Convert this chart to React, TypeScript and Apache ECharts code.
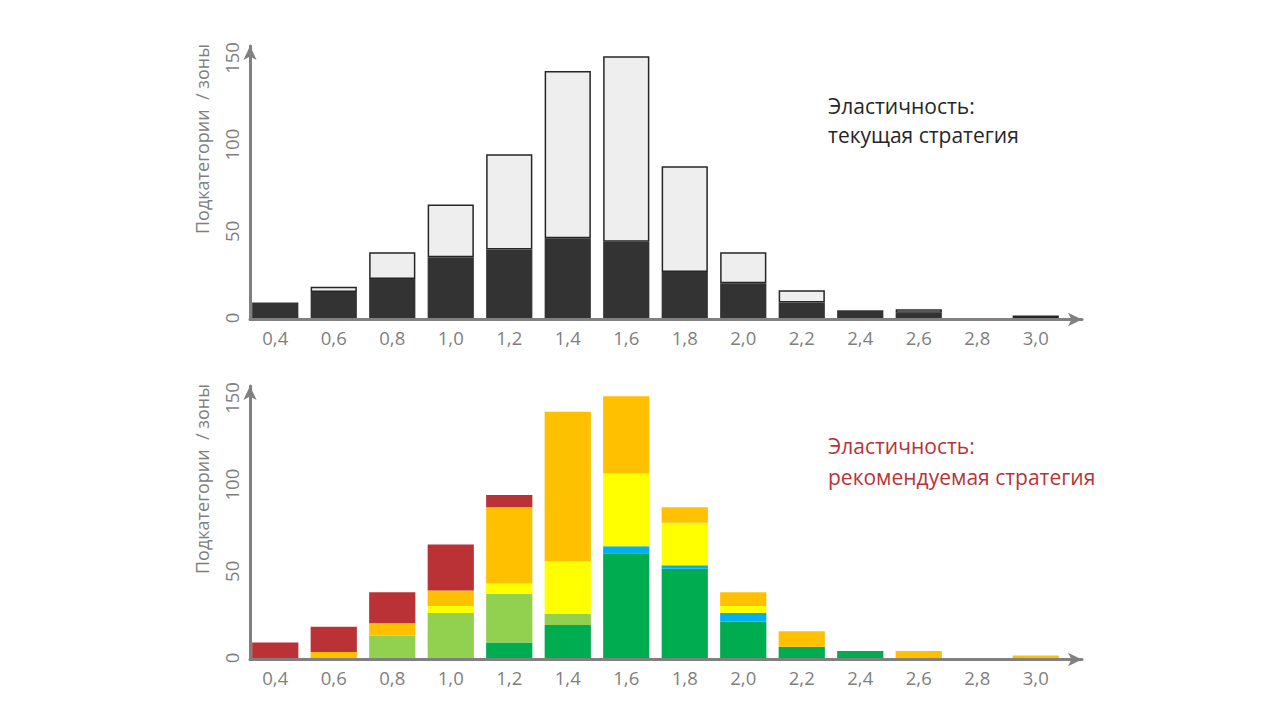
import React, { useEffect, useRef } from 'react';
import * as echarts from 'echarts';

const categories = ['0,4', '0,6', '0,8', '1,0', '1,2', '1,4', '1,6', '1,8', '2,0', '2,2', '2,4', '2,6', '2,8', '3,0'];
const yMin = 0;
const yMax = 150;
const yStep = 50;

// Top chart: current strategy
const currentDark = [9, 15, 22.5, 35, 39.5, 46, 44, 26.5, 20, 9, 4.5, 3, 0, 0];
const currentRest = [0, 3, 15.5, 30.5, 55, 96.5, 107, 61, 18, 7, 0, 2, 0, 1.5];

// Bottom chart: recommended strategy (stack order bottom -> top)
const zoneGreen = [0, 0, 0, 0, 9, 19, 60.5, 51.5, 21, 6.5, 4, 0, 0, 0];
const zoneLightGreen = [0, 0, 13, 26, 28, 6.5, 0, 0, 0, 0, 0, 0, 0, 0];
const zoneBlue = [0, 0, 0, 0, 0, 0, 4, 2, 5, 0, 0, 0, 0, 0];
const zoneYellow = [0, 0, 0, 4, 6, 30.5, 42, 24.5, 4, 0, 0, 0, 0, 0];
const zoneOrange = [0, 3.5, 7, 9, 44, 86, 44.5, 9, 8, 9, 0, 4, 0, 1.5];
const zoneRed = [9, 14.5, 18, 26.5, 7, 0, 0, 0, 0, 0, 0, 0, 0, 0];

const yAxisName = 'Подкатегории  / зоны';
const topTitle = 'Эластичность:\nтекущая стратегия';
const bottomTitle = 'Эластичность:\nрекомендуемая стратегия';

const FONT = '"Open Sans", "Noto Sans", sans-serif';
const AXIS_GRAY = '#808080';
const LABEL_GRAY = '#7f7f7f';

const nz = (arr: number[]) => arr.map((v) => (v === 0 ? '-' : v));

function dataXAxis(gridIndex: number) {
  return {
    type: 'category',
    gridIndex,
    data: categories,
    axisLine: { show: false },
    axisTick: { show: false },
    axisLabel: { color: LABEL_GRAY, fontSize: 18.5, margin: 10, fontFamily: FONT },
  };
}
function dataYAxis(gridIndex: number) {
  return {
    type: 'value',
    gridIndex,
    min: yMin,
    max: yMax,
    interval: yStep,
    axisLine: { show: false },
    axisTick: { show: false },
    splitLine: { show: false },
    axisLabel: { color: LABEL_GRAY, fontSize: 18.5, rotate: 90, margin: 5, fontFamily: FONT },
  };
}
function arrowAxis(gridIndex: number) {
  return {
    type: 'value',
    gridIndex,
    min: 0,
    max: 1,
    axisLine: {
      show: true,
      symbol: ['none', 'arrow'],
      symbolSize: [10, 14],
      lineStyle: { color: AXIS_GRAY, width: 3 },
    },
    axisTick: { show: false },
    axisLabel: { show: false },
    splitLine: { show: false },
  };
}

export default function App() {
  const ref = useRef<HTMLDivElement>(null);
  useEffect(() => {
    if (!ref.current) return;
    const chart = echarts.init(ref.current, null, { renderer: 'svg' });
    const bar = (name: string, data: number[], color: string, x: number, y: number, stack: string, extra: any = {}) => ({
      type: 'bar',
      name,
      xAxisIndex: x,
      yAxisIndex: y,
      stack,
      data: nz(data),
      barCategoryGap: '21%',
      clip: false,
      itemStyle: { color, ...extra },
    });
    const nameStyle = { text: yAxisName, fill: LABEL_GRAY, fontSize: 18, fontFamily: FONT, align: 'center', verticalAlign: 'middle' };
    chart.setOption({
      animation: false,
      backgroundColor: '#ffffff',
      grid: [
        { left: 246, width: 819, top: 58, height: 260 },
        { left: 250, width: 832, top: 46, height: 273.5 },
        { left: 246, width: 819, top: 398, height: 260 },
        { left: 250, width: 832, top: 386, height: 273.5 },
      ],
      xAxis: [dataXAxis(0), arrowAxis(1), dataXAxis(2), arrowAxis(3)],
      yAxis: [dataYAxis(0), arrowAxis(1), dataYAxis(2), arrowAxis(3)],
      series: [
        bar('Текущая', currentDark, '#333333', 0, 0, 'top'),
        bar('Остальные', currentRest, '#eeeeee', 0, 0, 'top', { borderColor: '#262626', borderWidth: 1.5 }),
        bar('green', zoneGreen, '#00ac50', 2, 2, 'bottom'),
        bar('lightGreen', zoneLightGreen, '#92d050', 2, 2, 'bottom'),
        bar('blue', zoneBlue, '#00b0f0', 2, 2, 'bottom'),
        bar('yellow', zoneYellow, '#ffff00', 2, 2, 'bottom'),
        bar('orange', zoneOrange, '#ffc000', 2, 2, 'bottom'),
        bar('red', zoneRed, '#ba3236', 2, 2, 'bottom'),
      ],
      graphic: [
        { type: 'text', x: 202, y: 139, rotation: Math.PI / 2, style: { ...nameStyle } },
        { type: 'text', x: 202, y: 479, rotation: Math.PI / 2, style: { ...nameStyle } },
        {
          type: 'text',
          x: 828,
          y: 91,
          style: { text: topTitle, fill: '#262626', fontSize: 21, lineHeight: 29, fontFamily: FONT },
        },
        {
          type: 'text',
          x: 828,
          y: 430,
          style: { text: bottomTitle, fill: '#ba3236', fontSize: 21, lineHeight: 31, fontFamily: FONT },
        },
      ],
    });
    return () => chart.dispose();
  }, []);
  return <div ref={ref} style={{ position: 'absolute', left: 0, top: 0, width: 1280, height: 720 }} />;
}
